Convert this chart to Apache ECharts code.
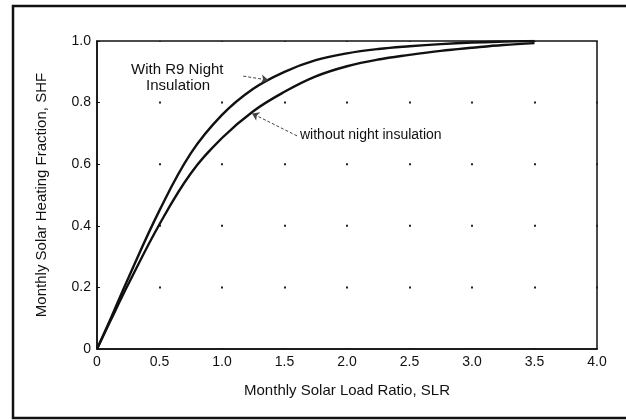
<!DOCTYPE html>
<html>
<head>
<meta charset="utf-8">
<script src="https://cdn.jsdelivr.net/npm/echarts@6/dist/echarts.min.js"></script>
<style>html,body{margin:0;padding:0;background:#fff}#c{width:626px;height:420px}</style>
</head>
<body>
<div id="c"></div>
<script>
var slr = [0, 0.1, 0.25, 0.5, 0.75, 1.0, 1.25, 1.5, 1.75, 2.0, 2.25, 2.5, 2.75, 3.0, 3.25, 3.5];
var shfR9 = [0, 0.09, 0.23, 0.45, 0.635, 0.76, 0.845, 0.9, 0.938, 0.96, 0.974, 0.983, 0.99, 0.995, 0.998, 1.0];
var shfNone = [0, 0.085, 0.21, 0.405, 0.57, 0.685, 0.772, 0.835, 0.885, 0.918, 0.94, 0.955, 0.968, 0.978, 0.987, 0.993];
var xTicks = {0: '0', 0.5: '0.5', 1: '1.0', 1.5: '1.5', 2: '2.0', 2.5: '2.5', 3: '3.0', 3.5: '3.5', 4: '4.0'};
var yTicks = {0: '0', 0.2: '0.2', 0.4: '0.4', 0.6: '0.6', 0.8: '0.8', 1: '1.0'};
var labelR9 = ['With R9 Night', 'Insulation'];
var labelNone = 'without night insulation';
var arrowR9 = [[1.17, 0.886], [1.37, 0.873]];
var arrowNone = [[1.6, 0.692], [1.24, 0.765]];

function pairs(xs, ys) { return xs.map(function (x, i) { return [x, ys[i]]; }); }

var chart = echarts.init(document.getElementById('c'), null, {renderer: 'canvas'});
var font = 'Liberation Sans, Arial, sans-serif';
chart.setOption({
  animation: false,
  backgroundColor: '#fff',
  grid: {left: 97, right: 29, top: 41, bottom: 71, show: true, borderColor: '#111', borderWidth: 1.5, backgroundColor: 'transparent'},
  xAxis: {
    type: 'value', min: 0, max: 4, interval: 0.5,
    name: 'Monthly Solar Load Ratio, SLR', nameLocation: 'middle', nameGap: 34,
    nameTextStyle: {fontFamily: font, fontSize: 15, color: '#111'},
    axisLine: {lineStyle: {color: '#111', width: 1.5}},
    axisTick: {show: false},
    axisLabel: {fontFamily: font, fontSize: 14, color: '#111', margin: 6, formatter: function (v) { return xTicks[v] !== undefined ? xTicks[v] : ''; }},
    splitLine: {show: true, lineStyle: {color: '#222', width: 2, type: [2, 59.6], dashOffset: 1}}
  },
  yAxis: {
    type: 'value', min: 0, max: 1, interval: 0.2,
    name: 'Monthly Solar Heating Fraction, SHF', nameLocation: 'middle', nameGap: 48,
    nameTextStyle: {fontFamily: font, fontSize: 15, color: '#111'},
    axisLine: {show: true, lineStyle: {color: '#111', width: 1.5}},
    axisTick: {show: true, inside: true, length: 3, lineStyle: {color: '#111'}},
    axisLabel: {fontFamily: font, fontSize: 14, color: '#111', margin: 6, formatter: function (v) { return yTicks[v] !== undefined ? yTicks[v] : ''; }},
    splitLine: {show: false}
  },
  series: [
    {type: 'line', name: 'With R9 Night Insulation', data: pairs(slr, shfR9), smooth: 0.4, showSymbol: false,
     lineStyle: {color: '#111', width: 2.4},
     markLine: {silent: true, symbol: ['none', 'arrow'], symbolSize: 7, label: {show: false},
       lineStyle: {color: '#444', width: 1, type: [3, 2]},
       data: [[{coord: arrowR9[0]}, {coord: arrowR9[1]}]]}},
    {type: 'line', name: 'without night insulation', data: pairs(slr, shfNone), smooth: 0.4, showSymbol: false,
     lineStyle: {color: '#111', width: 2.4},
     markLine: {silent: true, symbol: ['none', 'arrow'], symbolSize: 7, label: {show: false},
       lineStyle: {color: '#444', width: 1, type: [3, 2]},
       data: [[{coord: arrowNone[0]}, {coord: arrowNone[1]}]]}}
  ],
  graphic: [
    {type: 'rect', shape: {x: 13, y: 6, width: 640, height: 412}, style: {fill: 'none', stroke: '#111', lineWidth: 2.5}, silent: true},
    {type: 'text', left: 131, top: 62, style: {text: labelR9[0], font: '15px ' + font, fill: '#111'}},
    {type: 'text', left: 146, top: 78, style: {text: labelR9[1], font: '15px ' + font, fill: '#111'}},
    {type: 'text', left: 300, top: 128, style: {text: labelNone, font: '14px ' + font, fill: '#111'}}
  ]
});
</script>
</body>
</html>
